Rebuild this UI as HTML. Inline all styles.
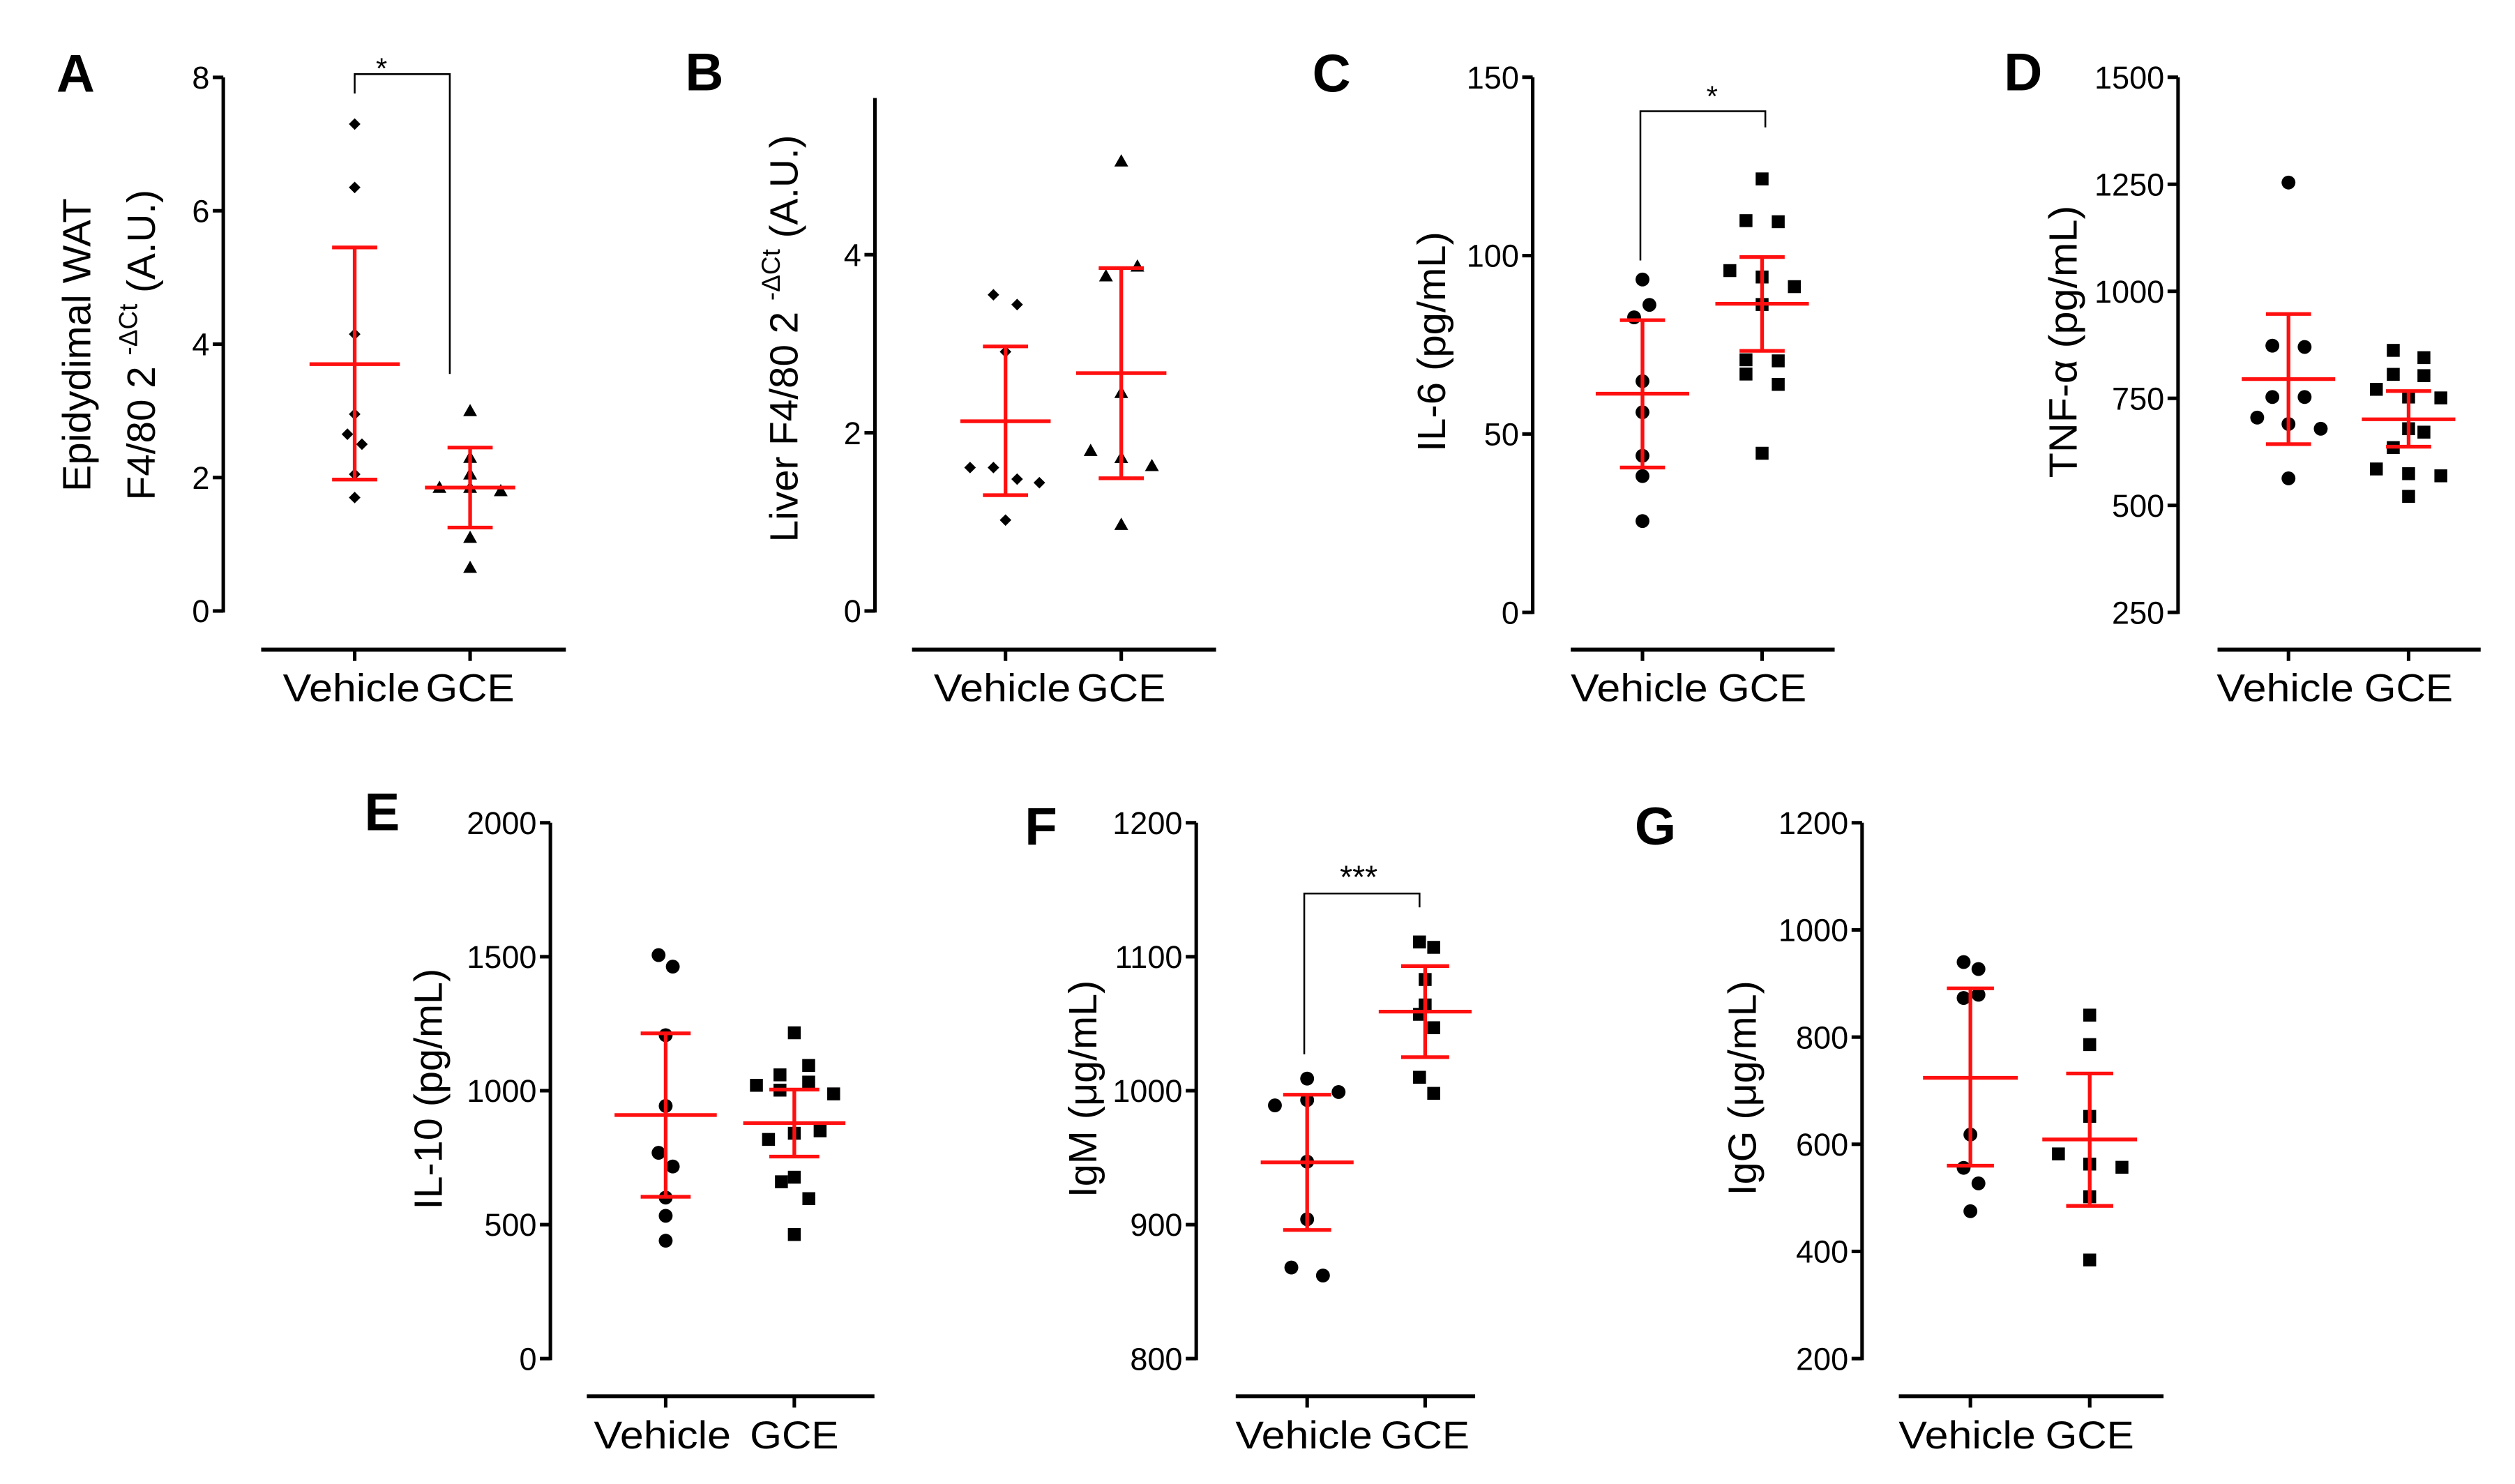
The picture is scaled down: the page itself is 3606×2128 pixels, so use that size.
<!DOCTYPE html>
<html>
<head>
<meta charset="utf-8">
<style>
html,body{margin:0;padding:0;background:#fff;}
svg{display:block;}
text{font-family:"Liberation Sans",Arial,sans-serif;fill:#000;}
</style>
</head>
<body>
<svg id="fig" xmlns="http://www.w3.org/2000/svg" width="3606" height="2128" viewBox="0 0 1560 920.6" preserveAspectRatio="none"></svg>
<script>
// ---- Data ----
const categories = ["Vehicle", "GCE"];
// Panel A
const aVehicle = [7.3, 6.35, 4.15, 2.95, 2.65, 2.5, 2.05, 1.7];
const aGCE = [3.0, 2.3, 2.05, 1.85, 1.85, 1.8, 1.1, 0.65];
const aVehJit = [0, 0, 0, 0, -4.5, 4.5, 0, 0];
const aGCEJit = [0, 0, 0, -19, 0, 19, 0, 0];
const aStats = [[3.7, 5.45, 1.97], [1.85, 2.45, 1.25]];
const aTicks = [0, 2, 4, 6, 8];
// Panel B
const bVehicle = [3.55, 3.44, 2.91, 1.61, 1.61, 1.48, 1.44, 1.02];
const bGCE = [5.05, 3.76, 3.87, 2.45, 1.80, 1.72, 1.63, 0.97];
const bVehJit = [-7.5, 7.2, 0, -22, -7.5, 7.2, 21, 0];
const bGCEJit = [0, -9.5, 10, 0, -19, 0, 19, 0];
const bStats = [[2.13, 2.97, 1.30], [2.67, 3.85, 1.49]];
const bTicks = [0, 2, 4];
// Panel C
const cVehicle = [93.3, 86.2, 82.7, 64.8, 56.1, 43.9, 38.2, 25.6];
const cGCE = [121.5, 109.8, 109.5, 95.8, 94, 91.3, 86.3, 70.8, 70.5, 66.8, 63.9, 44.6];
const cVehJit = [0, 4.3, -5.2, 0, 0, 0, 0, 0];
const cGCEJit = [0, -10, 10, -20, 0, 20, 0, -10, 10, -10, 10, 0];
const cStats = [[61.3, 81.9, 40.6], [86.5, 99.6, 73.3]];
const cTicks = [0, 50, 100, 150];
// Panel D
const dVehicle = [1254, 873, 870, 753, 753, 705, 690, 679, 563];
const dGCE = [862, 845, 806, 803, 771, 753, 751, 679, 671, 635, 585, 574, 569, 521];
const dVehJit = [0, -10, 10, -10, 10, -19.4, 0, 20, 0];
const dGCEJit = [-9.5, 9.5, -9.5, 9.5, -20, 0, 20, 0, 9.5, -9.5, -20, 0, 20, 0];
const dStats = [[795, 947, 643], [701, 767, 637]];
const dTicks = [250, 500, 750, 1000, 1250, 1500];
// Panel E
const eVehicle = [1506, 1463, 1207, 943, 768, 717, 601, 533, 440];
const eGCE = [1216, 1094, 1059, 1032, 1020, 1002, 988, 850, 841, 818, 677, 660, 597, 463];
const eVehJit = [-4.4, 4.4, 0, 0, -4.4, 4.4, 0, 0, 0];
const eGCEJit = [0, 8.9, -8.9, 8.9, -23.5, -8.9, 24.4, 16, 0, -16, 0, -8, 9, 0];
const eStats = [[909, 1214, 604], [879, 1004, 754]];
const eTicks = [0, 500, 1000, 1500, 2000];
// Panel F
const fVehicle = [1009, 999, 993, 989, 947, 904, 868, 862];
const fGCE = [1111, 1107, 1083, 1064, 1057, 1047, 1010, 998];
const fVehJit = [0, 19.5, 0, -20, 0, 0, -9.8, 9.8];
const fGCEJit = [-3.5, 5.3, 0, 0, -3.5, 5.3, -3.5, 5.3];
const fStats = [[946.5, 997, 896], [1059, 1093, 1025]];
const fTicks = [800, 900, 1000, 1100, 1200];
// Panel G
const gVehicle = [940, 927, 879, 873, 618, 556, 527, 475];
const gGCE = [841, 786, 652, 582, 563, 557, 502, 384];
const gVehJit = [-4.2, 5, 5, -4.2, 0, -4.2, 5, 0];
const gGCEJit = [0, 0, 0, -19.4, 0, 20, 0, 0];
const gStats = [[724, 891, 560], [609, 732, 485]];
const gTicks = [200, 400, 600, 800, 1000, 1200];

// ---- Layout ----
const NS = "http://www.w3.org/2000/svg";
const svg = document.getElementById("fig");
function mk(tag, attrs, parent) {
  const e = document.createElementNS(NS, tag);
  for (const k in attrs) e.setAttribute(k, attrs[k]);
  (parent || svg).appendChild(e);
  return e;
}
const panels = [
  {id:"a", letter:"A", lx:35, ly:57, ax:138.5, min:0, max:8, yb:379, yt:48, axTop:48, xl:[162,351], xy:403, cx:[220,291.6],
   veh:aVehicle, gce:aGCE, vj:aVehJit, gj:aGCEJit, st:aStats, ticks:aTicks, vs:"diamond", gs:"triangle",
   title:["Epidydimal WAT"], tx:[56], ty:214, tl:[182], sup:{x:96}, labY:435, half:28, cap:14},
  {id:"b", letter:"B", lx:425, ly:56, ax:542.7, min:0, max:4, yb:379, yt:158, axTop:60.8, xl:[565.7,754.3], xy:403, cx:[623.7,695.5],
   veh:bVehicle, gce:bGCE, vj:bVehJit, gj:bGCEJit, st:bStats, ticks:bTicks, vs:"diamond", gs:"triangle",
   title:[], tx:[], ty:210, tl:[], sup:{x:494.7, liver:true}, labY:435, half:28, cap:14},
  {id:"c", letter:"C", lx:814, ly:57, ax:950.7, min:0, max:150, yb:379.9, yt:47.9, axTop:47.9, xl:[974.3,1138], xy:403, cx:[1018.8,1093],
   veh:cVehicle, gce:cGCE, vj:cVehJit, gj:cGCEJit, st:cStats, ticks:cTicks, vs:"circle", gs:"square",
   title:["IL-6 (pg/mL)"], tx:[896.3], ty:212, tl:[136.6], labY:435, half:29, cap:14},
  {id:"d", letter:"D", lx:1243, ly:56, ax:1351, min:250, max:1500, yb:379.9, yt:47.9, axTop:47.9, xl:[1375.5,1538.7], xy:403, cx:[1419.5,1494],
   veh:dVehicle, gce:dGCE, vj:dVehJit, gj:dGCEJit, st:dStats, ticks:dTicks, vs:"circle", gs:"square",
   title:["TNF-\u03B1 (pg/mL)"], tx:[1288], ty:212, tl:[169], labY:435, half:29, cap:14},
  {id:"e", letter:"E", lx:226, ly:515, ax:341.4, min:0, max:2000, yb:842.8, yt:510.4, axTop:510.4, xl:[364,542.4], xy:866.2, cx:[412.9,492.7],
   veh:eVehicle, gce:eGCE, vj:eVehJit, gj:eGCEJit, st:eStats, ticks:eTicks, vs:"circle", gs:"square",
   title:["IL-10 (pg/mL)"], tx:[274], ty:675.6, tl:[149.6], labY:898.5, half:31.7, cap:15.5},
  {id:"f", letter:"F", lx:635.6, ly:524, ax:742, min:800, max:1200, yb:842.8, yt:510.4, axTop:510.4, xl:[766.5,915], xy:866.2, cx:[810.8,884],
   veh:fVehicle, gce:fGCE, vj:fVehJit, gj:fGCEJit, st:fStats, ticks:fTicks, vs:"circle", gs:"square",
   title:["IgM (\u03BCg/mL)"], tx:[680], ty:675.5, tl:[134.8], labY:898.5, half:28.8, cap:14.9},
  {id:"g", letter:"G", lx:1014, ly:524, ax:1155, min:200, max:1200, yb:842.8, yt:510.4, axTop:510.4, xl:[1177.8,1342], xy:866.2, cx:[1222.2,1296.2],
   veh:gVehicle, gce:gGCE, vj:gVehJit, gj:gGCEJit, st:gStats, ticks:gTicks, vs:"circle", gs:"square",
   title:["IgG (\u03BCg/mL)"], tx:[1089], ty:675, tl:[133.3], labY:898.5, half:29.4, cap:14.6}
];

function marker(g, shape, x, y) {
  let m;
  if (shape === "circle") m = mk("circle", {cx:x, cy:y, r:4.3, fill:"#000"}, g);
  else if (shape === "square") m = mk("rect", {x:x-4, y:y-4, width:8, height:8, fill:"#000"}, g);
  else if (shape === "diamond") m = mk("polygon", {points:`${x},${y-3.6} ${x+3.6},${y} ${x},${y+3.6} ${x-3.6},${y}`, fill:"#000"}, g);
  else m = mk("polygon", {points:`${x},${y-4.3} ${x+4.3},${y+3.3} ${x-4.3},${y+3.3}`, fill:"#000"}, g);
  return m;
}

panels.forEach(p => {
  const g = mk("g", {});
  
  
  const Y = v => p.yb + (v - p.min) / (p.max - p.min) * (p.yt - p.yb);

  const L = mk("text", {x:p.lx, y:p.ly, "font-size":33, "font-weight":"bold"}, g);
  L.textContent = p.letter;
  
  

  const ya = mk("line", {x1:p.ax, y1:p.axTop, x2:p.ax, y2:p.yb + 1, stroke:"#000", "stroke-width":2.2}, g);
  
  
  p.ticks.forEach(t => {
    const ty = Y(t);
    const tk = mk("line", {x1:p.ax - 6.5, y1:ty, x2:p.ax, y2:ty, stroke:"#000", "stroke-width":2.2}, g);
    
    
    const tl = mk("text", {x:p.ax - 8.5, y:ty + 7, "font-size":19.5, "text-anchor":"end"}, g);
    tl.textContent = String(t);
    
    
  });

  const xa = mk("line", {x1:p.xl[0], y1:p.xy, x2:p.xl[1], y2:p.xy, stroke:"#000", "stroke-width":2.5}, g);
  
  
  categories.forEach((c, i) => {
    const tk = mk("line", {x1:p.cx[i], y1:p.xy, x2:p.cx[i], y2:p.xy + 7, stroke:"#000", "stroke-width":2.2}, g);
    
    
    const lx = i === 0 ? p.cx[i] - 2 : p.cx[i];
    const t = mk("text", {x:lx, y:p.labY, "font-size":24, "text-anchor":"middle", textLength:i === 0 ? 85 : 55, lengthAdjust:"spacingAndGlyphs"}, g);
    t.textContent = c;
    
    
  });

  p.title.forEach((s, i) => {
    const t = mk("text", {x:0, y:0, "font-size":24.5, "text-anchor":"middle", transform:`translate(${p.tx[i]},${p.ty}) rotate(-90)`, textLength:p.tl[i], lengthAdjust:"spacingAndGlyphs"}, g);
    t.textContent = s;
    
    
  });
  if (p.sup) {
    const t = mk("text", {x:0, y:0, "font-size":24.5, "text-anchor":"middle", transform:`translate(${p.sup.x},${p.ty}) rotate(-90)`}, g);
    
    
    const a = mk("tspan", {}, t); a.textContent = (p.sup.liver ? "Liver " : "") + "F4/80 2 ";
    const b = mk("tspan", {dy:-11, "font-size":16}, t); b.textContent = "-\u0394Ct";
    const c = mk("tspan", {dy:11}, t); c.textContent = " (A.U.)";
  }

  [[p.veh, p.vj, p.vs, 0], [p.gce, p.gj, p.gs, 1]].forEach(([vals, jit, shape, gi]) => {
    vals.forEach((v, k) => {
      const m = marker(g, shape, p.cx[gi] + jit[k], Y(v));
      
      
    });
  });

  p.st.forEach((s, gi) => {
    const x = p.cx[gi];
    const eg = mk("g", {stroke:"#ff1010", "stroke-width":2.3, fill:"none"}, g);
    
    
    mk("line", {x1:x, y1:Y(s[1]), x2:x, y2:Y(s[2])}, eg);
    mk("line", {x1:x - p.half, y1:Y(s[0]), x2:x + p.half, y2:Y(s[0])}, eg);
    mk("line", {x1:x - p.cap, y1:Y(s[1]), x2:x + p.cap, y2:Y(s[1])}, eg);
    mk("line", {x1:x - p.cap, y1:Y(s[2]), x2:x + p.cap, y2:Y(s[2])}, eg);
  });
});

const sigs = [
  {l:220, r:279, top:46, lb:58, rb:232, sx:236.7, sy:48.7, s:"*", fs:18},
  {l:1017.5, r:1095, top:69, lb:161.6, rb:79, sx:1062, sy:66, s:"*", fs:18},
  {l:809, r:880.5, top:554.3, lb:654, rb:562.9, sx:842.8, sy:551, s:"***", fs:20}
];
sigs.forEach((s, i) => {
  const p = mk("polyline", {points:`${s.l},${s.lb} ${s.l},${s.top} ${s.r},${s.top} ${s.r},${s.rb}`, stroke:"#000", "stroke-width":1.1, fill:"none"});
  
  
  const t = mk("text", {x:s.sx, y:s.sy, "font-size":s.fs, "text-anchor":"middle"});
  t.textContent = s.s;
  
  
});
</script>
</body>
</html>
